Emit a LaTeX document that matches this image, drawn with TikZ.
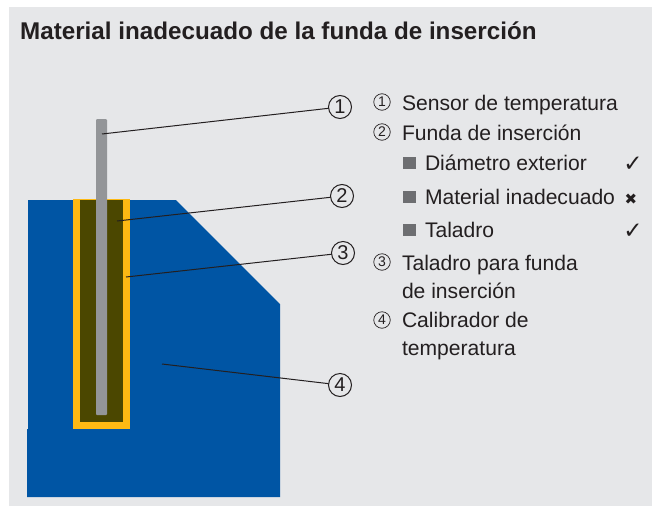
\documentclass[tikz,border=0pt]{standalone}
\usepackage{fontspec}
\setmainfont{Liberation Sans}
\newfontfamily\dejavu{DejaVu Sans}
\definecolor{panelbg}{HTML}{E6E7E9}
\definecolor{blockblue}{HTML}{0055A4}
\definecolor{sleeve}{HTML}{FDB913}
\definecolor{olive}{HTML}{4B4700}
\definecolor{sensorgray}{HTML}{939598}
\definecolor{bulletgray}{HTML}{6D6E71}
\definecolor{ink}{HTML}{231F20}
\tikzset{
  x=1pt,y=-1pt,
  legendtxt/.style={anchor=base west,inner sep=0pt,outer sep=0pt,text=ink,font=\fontsize{21.1}{24}\selectfont},
  legendnum/.style={circle,draw=ink,line width=0.7pt,inner sep=0pt,outer sep=0pt,minimum size=16.5pt,text=ink,font=\fontsize{14}{14}\selectfont},
  callnum/.style={circle,draw=ink,line width=1pt,inner sep=0pt,outer sep=0pt,minimum size=23pt,text=ink,font=\fontsize{20}{20}\selectfont},
  mark glyph/.style={anchor=base,inner sep=0pt,outer sep=0pt,text=ink,font=\dejavu\fontsize{23}{26}\selectfont},
  leader/.style={draw=ink,line width=1pt},
  bullet/.style={fill=bulletgray,draw=none}
}
\begin{document}
\begin{tikzpicture}
\useasboundingbox (0,0) rectangle (652,506);
\fill[white] (0,0) rectangle (652,506);
\fill[panelbg] (9,7) rectangle (652,506);
\node[anchor=base west,inner sep=0pt,text=ink,font=\bfseries\fontsize{24.2}{28}\selectfont] (title) at (20,39.5) {Material inadecuado de la funda de inserción};
% block
\fill[blockblue] (28,200) -- (176,200) -- (280,304) -- (280,497) -- (27,497) -- (27,429) -- (28,429) -- cycle;
\fill[sleeve] (73,199) rectangle (130,429);
\fill[olive] (80,200) rectangle (123,422);
\fill[sensorgray,rounded corners=1pt] (96,119) rectangle (107,415);
% anchors
\coordinate (p1) at (102,134);
\coordinate (p2) at (117,221);
\coordinate (p3) at (126,277);
\coordinate (p4) at (162,364);
\node[callnum] (n1) at (340,107) {1};
\node[callnum] (n2) at (342,196) {2};
\node[callnum] (n3) at (343,253) {3};
\node[callnum] (n4) at (340,385) {4};
\draw[leader] (p1) -- (n1);
\draw[leader] (p2) -- (n2);
\draw[leader] (p3) -- (n3);
\draw[leader] (p4) -- (n4);
% legend
\node[legendnum] (l1) at (382,102) {1};
\node[legendtxt] (t1) at (402,110) {Sensor de temperatura};
\node[legendnum] (l2) at (382,132) {2};
\node[legendtxt] (t2) at (402,140) {Funda de inserción};
\fill[bullet] (403,157) rectangle (416,169);
\node[legendtxt] (t2a) at (425,170) {Diámetro exterior};
\node[mark glyph] (m1) at (633,171) {✓};
\fill[bullet] (403,191) rectangle (416,203);
\node[legendtxt] (t2b) at (425,204) {Material inadecuado};
\node[mark glyph,font=\dejavu\fontsize{15}{18}\selectfont] (m2) at (631,204) {✖};
\fill[bullet] (403,224) rectangle (416,236);
\node[legendtxt] (t2c) at (425,237) {Taladro};
\node[mark glyph] (m3) at (633,238) {✓};
\node[legendnum] (l3) at (382,262) {3};
\node[legendtxt] (t3) at (402,270) {Taladro para funda};
\node[legendtxt] (t3b) at (402,298) {de inserción};
\node[legendnum] (l4) at (382,320) {4};
\node[legendtxt] (t4) at (402,327) {Calibrador de};
\node[legendtxt] (t4b) at (402,355) {temperatura};
\end{tikzpicture}
\end{document}
